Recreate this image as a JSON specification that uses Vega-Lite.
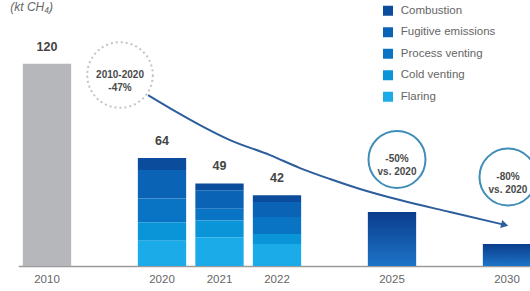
{
  "$schema": "https://vega.github.io/schema/vega-lite/v6.json",
  "width": 511.75,
  "height": 236,
  "autosize": {"type": "none"},
  "padding": {"left": 18.25, "top": 30, "right": 0, "bottom": 25},
  "background": "white",
  "config": {"view": {"stroke": null}, "font": "Liberation Sans"},
  "title": {"text": "(kt CH₄)", "anchor": "start", "frame": "group", "dx": -8, "offset": 0, "dy": 9, "fontSize": 12, "fontStyle": "italic", "fontWeight": "normal", "color": "#666666"},
  "datasets": {
    "bars": [
      {"year": "2010", "category": "Total", "value": 120},
      {"year": "2020", "category": "Combustion", "value": 7},
      {"year": "2020", "category": "Fugitive emissions", "value": 17},
      {"year": "2020", "category": "Process venting", "value": 14},
      {"year": "2020", "category": "Cold venting", "value": 11},
      {"year": "2020", "category": "Flaring", "value": 15},
      {"year": "2021", "category": "Combustion", "value": 4},
      {"year": "2021", "category": "Fugitive emissions", "value": 11},
      {"year": "2021", "category": "Process venting", "value": 7},
      {"year": "2021", "category": "Cold venting", "value": 10},
      {"year": "2021", "category": "Flaring", "value": 17},
      {"year": "2022", "category": "Combustion", "value": 4},
      {"year": "2022", "category": "Fugitive emissions", "value": 9},
      {"year": "2022", "category": "Process venting", "value": 10},
      {"year": "2022", "category": "Cold venting", "value": 6},
      {"year": "2022", "category": "Flaring", "value": 13},
      {"year": "2025", "category": "Target", "value": 32},
      {"year": "2030", "category": "Target", "value": 13}
    ],
    "totals": [
      {"year": "2010", "total": 120},
      {"year": "2020", "total": 64},
      {"year": "2021", "total": 49},
      {"year": "2022", "total": 42}
    ],
    "arrow": [
      {"slot": 1.757, "level": 101.4},
      {"slot": 2.226, "level": 91.9},
      {"slot": 2.661, "level": 83.6},
      {"slot": 3.183, "level": 74.7},
      {"slot": 3.878, "level": 65.8},
      {"slot": 4.4, "level": 58.1},
      {"slot": 4.922, "level": 51.6},
      {"slot": 5.443, "level": 45.7},
      {"slot": 6.139, "level": 39.1},
      {"slot": 7.009, "level": 32.0},
      {"slot": 7.96, "level": 24.4}
    ],
    "notes": [
      {"slot": 1.27, "level": 113.3, "label": "2010-2020\n-47%", "kind": "dashed"},
      {"slot": 6.087, "level": 63.2, "label": "-50%\nvs. 2020", "kind": "solid"},
      {"slot": 8.017, "level": 52.8, "label": "-80%\nvs. 2020", "kind": "solid"}
    ]
  },
  "resolve": {"scale": {"x": "independent"}},
  "layer": [
    {
      "encoding": {
        "x": {
          "field": "year", "type": "ordinal",
          "scale": {"domain": ["2010", " ", "2020", "2021", "2022", "  ", "2025", "   ", "2030"], "range": [0, 517.5], "paddingInner": 0.16, "paddingOuter": 0.08},
          "axis": {"title": null, "labelAngle": 0, "ticks": false, "domainColor": "#9a9a9a", "domainWidth": 1.5, "labelColor": "#666666", "labelFontSize": 11.5, "labelPadding": 7, "grid": false}
        }
      },
      "layer": [
        {
          "data": {"name": "bars"},
          "transform": [{"filter": "datum.category === 'Total'"}],
          "mark": {"type": "bar", "color": "#b5b7bb"},
          "encoding": {
            "y": {"field": "value", "type": "quantitative", "scale": {"domain": [0, 140]}, "axis": null}
          }
        },
        {
          "data": {"name": "bars"},
          "transform": [
            {"filter": "datum.category !== 'Total' && datum.category !== 'Target'"},
            {"calculate": "indexof(['Flaring','Cold venting','Process venting','Fugitive emissions','Combustion'], datum.category)", "as": "stackOrder"}
          ],
          "mark": {"type": "bar"},
          "encoding": {
            "y": {"field": "value", "type": "quantitative", "stack": "zero", "scale": {"domain": [0, 140]}, "axis": null},
            "order": {"field": "stackOrder", "type": "quantitative"},
            "color": {
              "field": "category", "type": "nominal",
              "scale": {"domain": ["Combustion", "Fugitive emissions", "Process venting", "Cold venting", "Flaring"], "range": ["#0b4c9c", "#0a63b4", "#0a74c4", "#0a95d8", "#1aabe8"]},
              "legend": {"orient": "none", "legendX": 364, "legendY": -25, "title": null, "symbolType": "square", "symbolSize": 100, "symbolStrokeWidth": 0, "labelFontSize": 11.5, "labelColor": "#666666", "rowPadding": 8.5, "labelOffset": 7}
            }
          }
        },
        {
          "data": {"name": "bars"},
          "transform": [{"filter": "datum.category === 'Target'"}],
          "mark": {"type": "bar", "color": {"gradient": "linear", "x1": 0, "y1": 0, "x2": 0, "y2": 1, "stops": [{"offset": 0, "color": "#0a3c8c"}, {"offset": 1, "color": "#1d74c8"}]}},
          "encoding": {
            "y": {"field": "value", "type": "quantitative", "scale": {"domain": [0, 140]}, "axis": null}
          }
        },
        {
          "data": {"name": "totals"},
          "mark": {"type": "text", "dy": -13, "fontSize": 12.5, "fontWeight": "bold", "color": "#444444", "baseline": "alphabetic"},
          "encoding": {
            "y": {"field": "total", "type": "quantitative", "scale": {"domain": [0, 140]}, "axis": null},
            "text": {"field": "total", "type": "quantitative"}
          }
        }
      ]
    },
    {
      "encoding": {
        "x": {"field": "slot", "type": "quantitative", "scale": {"domain": [-0.5, 8.5], "range": [0, 517.5], "nice": false, "zero": false}, "axis": null},
        "y": {"field": "level", "type": "quantitative", "scale": {"domain": [0, 140]}, "axis": null}
      },
      "layer": [
        {
          "data": {"name": "arrow"},
          "mark": {"type": "line", "interpolate": "monotone", "color": "#2d5e9c", "strokeWidth": 2}
        },
        {
          "data": {"name": "arrow"},
          "transform": [{"filter": "datum.slot > 7.9"}],
          "mark": {"type": "point", "shape": "triangle-right", "filled": true, "color": "#2d5e9c", "size": 70, "angle": 14, "opacity": 1}
        },
        {
          "data": {"name": "notes"},
          "transform": [{"filter": "datum.kind === 'dashed'"}],
          "mark": {"type": "point", "shape": "circle", "filled": false, "size": 4300, "stroke": "#c4c4c4", "strokeWidth": 2, "strokeDash": [2, 3], "opacity": 1}
        },
        {
          "data": {"name": "notes"},
          "transform": [{"filter": "datum.kind === 'solid'"}],
          "mark": {"type": "point", "shape": "circle", "filled": false, "size": 3250, "stroke": "#3f8db8", "strokeWidth": 2, "opacity": 1}
        },
        {
          "data": {"name": "notes"},
          "mark": {"type": "text", "lineBreak": "\n", "fontSize": 10, "fontWeight": "bold", "color": "#4a4a4a", "lineHeight": 13, "baseline": "middle"},
          "encoding": {"text": {"field": "label"}}
        }
      ]
    }
  ]
}
